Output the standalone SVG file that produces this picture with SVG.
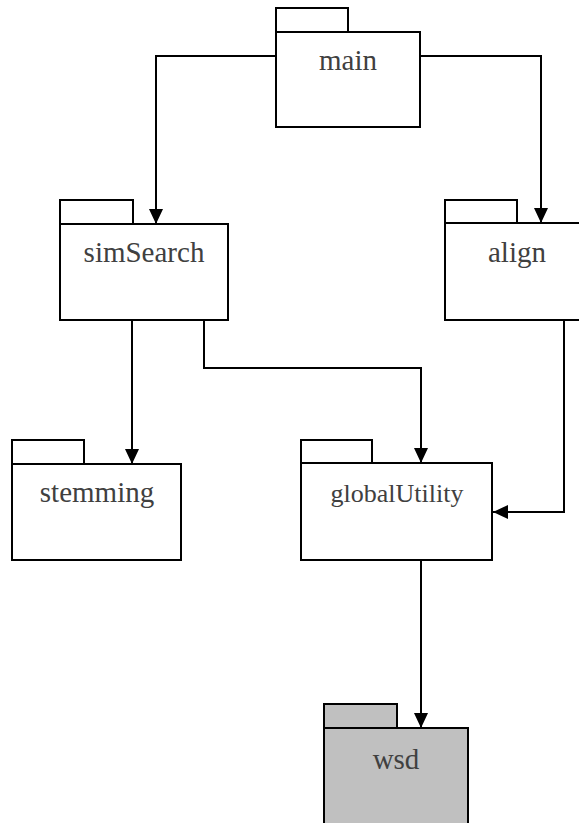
<svg xmlns="http://www.w3.org/2000/svg" width="579" height="823" viewBox="0 0 579 823">
  <style>
    .pkg rect { fill: #ffffff; stroke: #000000; stroke-width: 2; }
    .pkg.ext rect { fill: #c0c0c0; }
    .lbl { font-family: 'Liberation Serif', 'Times New Roman', serif; font-size: 29px; fill: #404040; text-anchor: middle; }
    .lbl.small { font-size: 26px; }
    .dep { fill: none; stroke: #000000; stroke-width: 2; marker-end: url(#arrow); }
  </style>
  <defs>
    <marker id="arrow" viewBox="0 0 15 14" refX="15" refY="7" markerWidth="15" markerHeight="14" markerUnits="userSpaceOnUse" orient="auto">
      <path d="M0,0 L15,7 L0,14 z" fill="#000000"/>
    </marker>
  </defs>
  <rect width="579" height="823" fill="#ffffff"/>

  <g id="connectors">
    <path class="dep" d="M276,56 H156 V224"/>
    <path class="dep" d="M420,56 H541 V223"/>
    <path class="dep" d="M132,320 V464"/>
    <path class="dep" d="M204,320 V368 H421 V463"/>
    <path class="dep" d="M564,320 V512 H493"/>
    <path class="dep" d="M421,560 V728"/>
  </g>

  <g id="main" class="pkg">
    <rect x="276" y="8" width="72" height="24"/>
    <rect x="276" y="32" width="144" height="95"/>
    <text class="lbl" x="348" y="70">main</text>
  </g>

  <g id="simSearch" class="pkg">
    <rect x="60" y="200" width="73" height="24"/>
    <rect x="60" y="224" width="168" height="96"/>
    <text class="lbl" x="144" y="262">simSearch</text>
  </g>

  <g id="align" class="pkg">
    <rect x="445" y="200" width="72" height="23"/>
    <rect x="445" y="223" width="150" height="97"/>
    <text class="lbl" x="517" y="262">align</text>
  </g>

  <g id="stemming" class="pkg">
    <rect x="12" y="440" width="72" height="24"/>
    <rect x="12" y="464" width="169" height="96"/>
    <text class="lbl" x="97" y="502">stemming</text>
  </g>

  <g id="globalUtility" class="pkg">
    <rect x="301" y="440" width="71" height="23"/>
    <rect x="301" y="463" width="191" height="97"/>
    <text class="lbl small" x="397" y="502">globalUtility</text>
  </g>

  <g id="wsd" class="pkg ext">
    <rect x="324" y="704" width="73" height="24"/>
    <rect x="324" y="728" width="144" height="110"/>
    <text class="lbl" x="396" y="769">wsd</text>
  </g>
</svg>
